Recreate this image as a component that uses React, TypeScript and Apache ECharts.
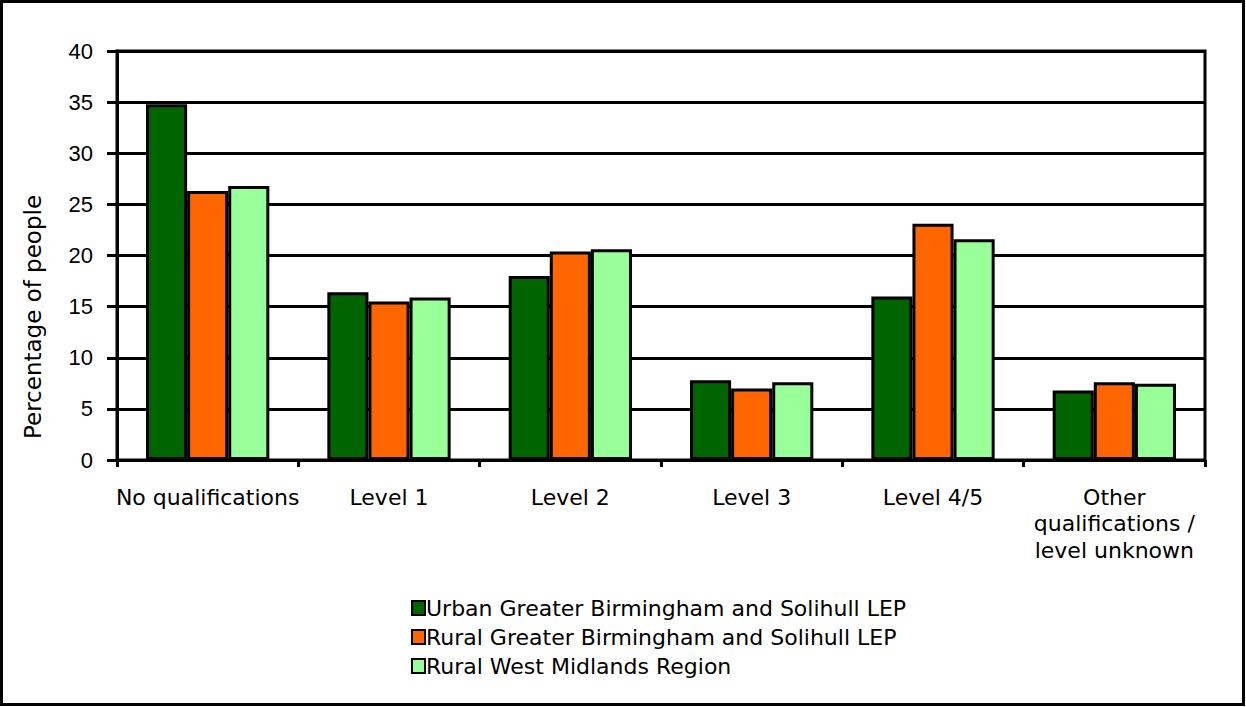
import React, { useEffect, useRef } from "react";
import * as echarts from "echarts";

const categories = [
  "No qualifications",
  "Level 1",
  "Level 2",
  "Level 3",
  "Level 4/5",
  "Other\nqualifications /\nlevel unknown",
];
const seriesNames = [
  "Urban Greater Birmingham and Solihull LEP",
  "Rural Greater Birmingham and Solihull LEP",
  "Rural West Midlands Region",
];
const urbanGBS = [34.8, 16.4, 18.0, 7.8, 16.0, 6.8];
const ruralGBS = [26.3, 15.5, 20.4, 7.0, 23.1, 7.6];
const ruralWM = [26.8, 15.9, 20.6, 7.6, 21.6, 7.45];
const colors = ["#006400", "#FF6600", "#99FF99"];

export default function App() {
  const ref = useRef<HTMLDivElement>(null);
  useEffect(() => {
    document.body.style.margin = "0";
    const chart = echarts.init(ref.current!, null, { renderer: "svg" });
    const font = "Liberation Sans, Arial, sans-serif";
    const wide = "DejaVu Sans, Liberation Sans, sans-serif";
    const data = [urbanGBS, ruralGBS, ruralWM];
    chart.setOption({
      animation: false,
      textStyle: { fontFamily: font },
      grid: {
        left: 117,
        right: 41,
        top: 51,
        bottom: 247,
        show: true,
        borderColor: "#000",
        borderWidth: 3,
      },
      legend: {
        orient: "vertical",
        left: 406,
        top: 592,
        itemWidth: 13,
        itemHeight: 14,
        itemGap: 7,
        icon: "rect",
        itemStyle: { borderColor: "#000", borderWidth: 2 },
        textStyle: { fontSize: 22, color: "#000", fontFamily: wide, padding: [0, 0, 0, -4] },
        data: seriesNames,
      },
      xAxis: {
        type: "category",
        data: categories,
        axisLine: { lineStyle: { color: "#000", width: 3 } },
        axisTick: { show: true, length: 7, lineStyle: { color: "#000", width: 3 } },
        axisLabel: {
          color: "#000",
          fontSize: 22,
          margin: 24,
          lineHeight: 26.5,
          interval: 0,
          fontFamily: wide,
        },
      },
      yAxis: {
        type: "value",
        min: 0,
        max: 40,
        interval: 5,
        axisLine: { show: true, lineStyle: { color: "#000", width: 3 } },
        axisTick: { show: true, length: 10, lineStyle: { color: "#000", width: 3 } },
        axisLabel: { color: "#000", fontSize: 22, margin: 24, fontFamily: font },
        splitLine: { show: true, lineStyle: { color: "#000", width: 3 } },
      },
      graphic: [
        {
          type: "text",
          x: 33,
          y: 317,
          rotation: Math.PI / 2,
          style: {
            text: "Percentage of people",
            fontSize: 23,
            fontFamily: wide,
            fill: "#000",
            align: "center",
            verticalAlign: "middle",
          },
        },
        {
          type: "rect",
          shape: { x: 1.5, y: 1.5, width: 1242, height: 703 },
          style: { fill: "none", stroke: "#000", lineWidth: 3 },
          silent: true,
        },
      ],
      series: seriesNames.map((name, i) => ({
        name,
        type: "bar",
        data: data[i],
        barGap: "0%",
        barCategoryGap: "32%",
        itemStyle: { color: colors[i], borderColor: "#000", borderWidth: 3 },
      })),
    });
    return () => chart.dispose();
  }, []);
  return <div ref={ref} style={{ width: 1246, height: 707 }} />;
}
